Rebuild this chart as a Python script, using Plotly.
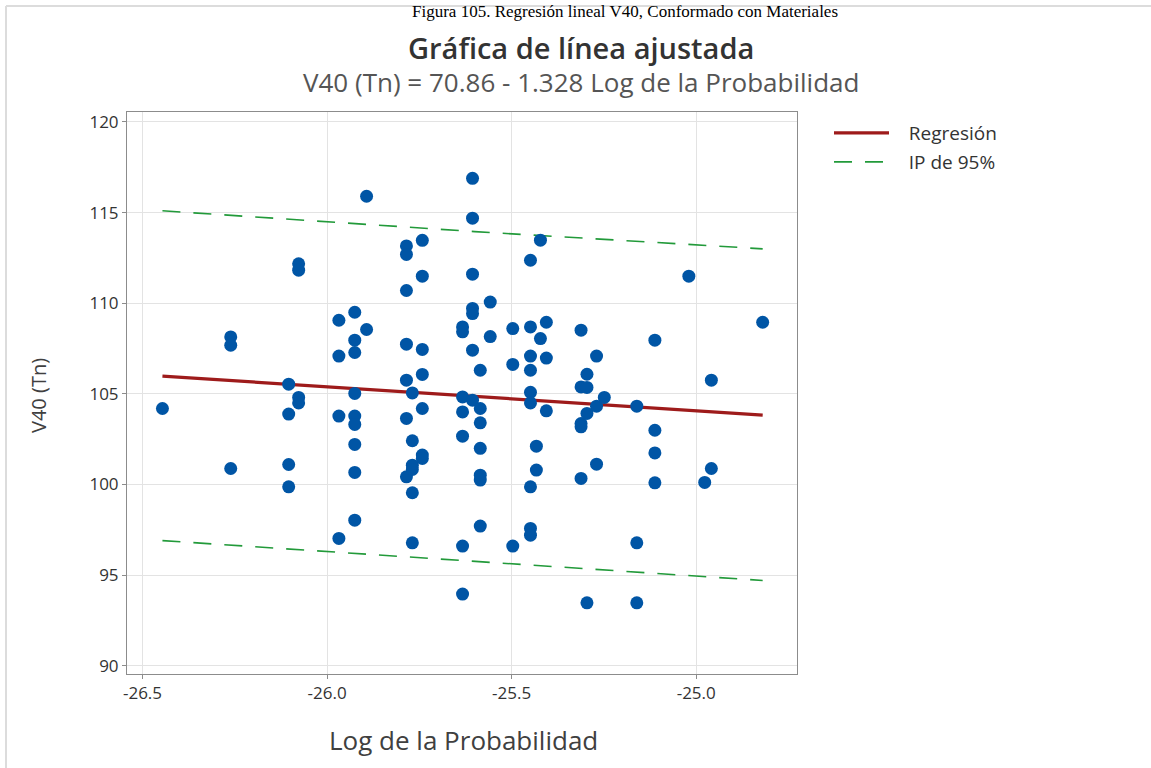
import plotly.graph_objects as go

# ---- data ----
log_prob = [
    -26.446,
    -26.261, -26.261, -26.261,
    -26.104, -26.104, -26.104, -26.104,
    -26.077, -26.077, -26.077, -26.077,
    -25.968, -25.968, -25.968, -25.968,
    -25.925, -25.925, -25.925, -25.925, -25.925, -25.925, -25.925, -25.925, -25.925,
    -25.893, -25.893,
    -25.785, -25.785, -25.785, -25.785, -25.785, -25.785, -25.785,
    -25.769, -25.769, -25.769, -25.769, -25.769, -25.769,
    -25.742, -25.742, -25.742, -25.742, -25.742, -25.742, -25.742,
    -25.633, -25.633, -25.633, -25.633, -25.633, -25.633, -25.633,
    -25.606, -25.606, -25.606, -25.606, -25.606, -25.606, -25.606,
    -25.585, -25.585, -25.585, -25.585, -25.585, -25.585, -25.585,
    -25.558, -25.558,
    -25.497, -25.497, -25.497,
    -25.449, -25.449, -25.449, -25.449, -25.449, -25.449, -25.449, -25.449, -25.449,
    -25.433, -25.433,
    -25.422, -25.422,
    -25.406, -25.406, -25.406,
    -25.312, -25.312, -25.312, -25.312, -25.312,
    -25.296, -25.296, -25.296, -25.296,
    -25.270, -25.270, -25.270,
    -25.249,
    -25.161, -25.161, -25.161,
    -25.112, -25.112, -25.112, -25.112,
    -25.020,
    -24.977,
    -24.959, -24.959,
    -24.820,
]
v40 = [
    104.19,
    108.14, 107.68, 100.88,
    105.53, 103.88, 101.10, 99.87,
    112.17, 111.82, 104.80, 104.50,
    109.06, 107.08, 103.77, 97.02,
    109.50, 107.96, 107.28, 105.02, 103.77, 103.31, 102.21, 100.66, 98.03,
    115.90, 108.55,
    113.16, 112.69, 110.70, 107.74, 105.75, 103.64, 100.42,
    105.05, 102.41, 101.06, 100.83, 99.54, 96.78,
    113.47, 111.49, 107.45, 106.07, 104.19, 101.62, 101.43,
    108.69, 108.42, 104.83, 104.00, 102.66, 96.60, 93.95,
    116.89, 114.69, 111.60, 109.71, 109.43, 107.41, 104.65,
    106.30, 104.19, 103.40, 101.99, 100.51, 100.24, 97.70,
    110.06, 108.16,
    108.60, 106.62, 96.60,
    112.37, 108.69, 107.08, 106.30, 105.08, 104.50, 99.87, 97.57, 97.20,
    102.11, 100.79,
    113.48, 108.05,
    108.95, 106.97, 104.06,
    108.51, 105.38, 103.36, 103.18, 100.33,
    106.08, 105.35, 103.92, 93.47,
    107.08, 104.32, 101.12,
    104.80,
    104.32, 96.78, 93.47,
    107.96, 102.99, 101.74, 100.09,
    111.49,
    100.11,
    105.75, 100.88,
    108.95,
]

fit_x = [-26.446, -24.820]
fit_y = [105.98, 103.82]

pi_x = [-26.446, -25.6, -24.820]
pi_upper = [115.10, 113.95, 113.00]
pi_lower = [96.90, 95.75, 94.70]

x_ticks = [-26.5, -26.0, -25.5, -25.0]
y_ticks = [90, 95, 100, 105, 110, 115, 120]

# ---- figure geometry ----
W, H = 1151, 768
L, R, T, B = 127, 797, 112, 674
pw, ph = R - L, B - T


def px(xp):
    return (xp - L) / pw


def py(yp):
    return (B - yp) / ph


FONT = "Open Sans"
BLUE = "#0055A5"
RED = "#9E1B1B"
GREEN = "#229A3A"
NB = "\u00a0"

fig = go.Figure()

fig.add_trace(go.Scatter(
    x=pi_x, y=pi_upper, mode="lines", name=NB * 3 + "IP de 95%",
    line=dict(color=GREEN, width=1.6, dash="18px,13px"),
    legend="legend2", showlegend=True,
))
fig.add_trace(go.Scatter(
    x=pi_x, y=pi_lower, mode="lines", name="IP de 95%",
    line=dict(color=GREEN, width=1.6, dash="18px,13px"),
    legend="legend2", showlegend=False,
))
fig.add_trace(go.Scatter(
    x=fit_x, y=fit_y, mode="lines", name=NB * 3 + "Regresión",
    line=dict(color=RED, width=3.2), legend="legend", showlegend=True,
))
fig.add_trace(go.Scatter(
    x=log_prob, y=v40, mode="markers", name="Datos",
    marker=dict(color=BLUE, size=13, line=dict(width=0)),
    showlegend=False,
))

axis_common = dict(
    showgrid=True, gridcolor="#E3E3E3", gridwidth=1,
    showline=True, linecolor="#8C8C8C", linewidth=1, mirror=True,
    ticks="outside", ticklen=4, tickcolor="#8C8C8C",
    zeroline=False,
    tickfont=dict(family=FONT, size=17, color="#333333"),
)

leg_font = dict(family=FONT, size=19, color="#333333")

fig.update_layout(
    width=W, height=H,
    margin=dict(l=L, r=W - R, t=T, b=H - B),
    paper_bgcolor="white", plot_bgcolor="white",
    xaxis=dict(range=[-26.542, -24.727], tickvals=x_ticks,
               ticktext=[f"{v:.1f}" for v in x_ticks], **axis_common),
    yaxis=dict(range=[89.54, 120.55], tickvals=y_ticks,
               ticktext=[str(v) for v in y_ticks], **axis_common),
    legend=dict(x=px(829), y=py(133), xanchor="left", yanchor="middle",
                font=leg_font, bgcolor="rgba(0,0,0,0)", itemwidth=55),
    legend2=dict(x=px(829), y=py(162), xanchor="left", yanchor="middle",
                 font=leg_font, bgcolor="rgba(0,0,0,0)", itemwidth=55),
    showlegend=True,
)

annotations = [
    dict(text="Gráfica de línea ajustada", x=px(581), y=py(47),
         font=dict(family=FONT, size=29, color="#333333", weight=600)),
    dict(text="V40 (Tn) = 70.86 - 1.328 Log de la Probabilidad", x=px(581), y=py(82),
         font=dict(family=FONT, size=26, color="#555555")),
    dict(text="V40 (Tn)", x=px(38), y=py(395), textangle=-90,
         font=dict(family=FONT, size=20, color="#404040")),
    dict(text="Log de la Probabilidad", x=px(463), y=py(740),
         font=dict(family=FONT, size=26, color="#404040")),
    dict(text="Figura 105. Regresión lineal V40, Conformado con Materiales",
         x=px(625), y=py(0), yanchor="top",
         font=dict(family="Liberation Serif", size=17, color="#000000")),
]
for a in annotations:
    a.setdefault("xref", "paper")
    a.setdefault("yref", "paper")
    a.setdefault("showarrow", False)
    a.setdefault("xanchor", "center")
    a.setdefault("yanchor", "middle")
    fig.add_annotation(**a)

# outer frame of the captured figure
fig.add_shape(type="line", xref="paper", yref="paper",
              x0=px(6), x1=px(1151), y0=py(6), y1=py(6),
              line=dict(color="#DCDCDC", width=2), layer="below")
fig.add_shape(type="line", xref="paper", yref="paper",
              x0=px(6), x1=px(6), y0=py(6), y1=py(768),
              line=dict(color="#DCDCDC", width=2), layer="below")

fig.write_html("out.html", config={"displayModeBar": False},
               post_script="document.body.style.margin='0';")
